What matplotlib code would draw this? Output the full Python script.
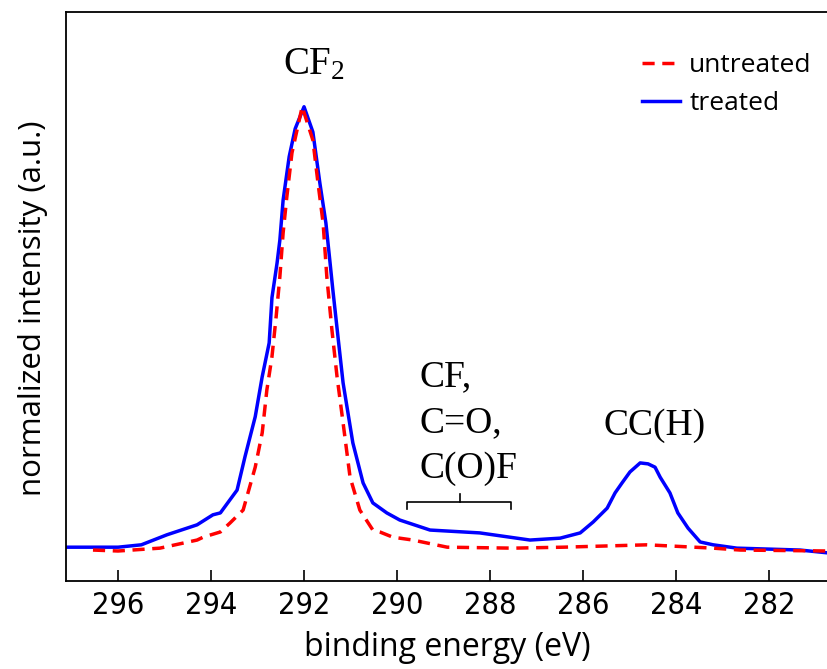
import matplotlib
matplotlib.use("Agg")
import matplotlib.pyplot as plt
import numpy as np

plt.rcParams["mathtext.fontset"] = "custom"
plt.rcParams["mathtext.rm"] = "Liberation Serif"
plt.rcParams["mathtext.it"] = "Liberation Serif:italic"

# ---- data (binding energy in eV, normalized intensity) ----
treated_E = [297.12, 296.5, 296.0, 295.5, 294.95, 294.3, 293.96, 293.8, 293.44, 293.27,
             293.05, 292.90, 292.75, 292.69, 292.58, 292.52, 292.45, 292.32, 292.19, 292.0,
             291.81, 291.66, 291.53, 291.44, 291.38, 291.27, 291.16, 290.95, 290.73, 290.52,
             290.22, 289.94, 289.29, 288.22, 287.14, 286.49, 286.06, 285.78, 285.48, 285.31,
             285.16, 284.99, 284.77, 284.60, 284.45, 284.34, 284.13, 283.96, 283.74, 283.48,
             283.20, 282.69, 282.0, 281.33, 280.73]
treated_I = [0.071, 0.071, 0.071, 0.076, 0.097, 0.118, 0.139, 0.143, 0.191, 0.261,
             0.345, 0.429, 0.500, 0.595, 0.668, 0.716, 0.800, 0.891, 0.950, 0.996,
             0.943, 0.836, 0.752, 0.668, 0.611, 0.513, 0.416, 0.290, 0.206, 0.164,
             0.143, 0.128, 0.107, 0.101, 0.086, 0.090, 0.101, 0.124, 0.153, 0.185,
             0.206, 0.229, 0.248, 0.246, 0.239, 0.218, 0.185, 0.143, 0.111, 0.082,
             0.076, 0.069, 0.067, 0.065, 0.059]

untreated_E = [296.54, 296.0, 295.1, 294.3, 294.17, 293.8, 293.59, 293.31, 293.05, 292.90,
               292.80, 292.69, 292.60, 292.52, 292.45, 292.37, 292.26, 292.04, 291.81, 291.70,
               291.59, 291.51, 291.40, 291.29, 291.16, 291.01, 290.80, 290.52, 290.37, 290.09,
               289.66, 288.92, 287.51, 286.43, 284.62, 283.20, 282.62, 280.73]
untreated_I = [0.065, 0.063, 0.069, 0.086, 0.092, 0.103, 0.122, 0.149, 0.239, 0.311,
               0.401, 0.471, 0.555, 0.639, 0.731, 0.807, 0.899, 0.996, 0.926, 0.836,
               0.752, 0.639, 0.527, 0.429, 0.332, 0.218, 0.149, 0.107, 0.103, 0.092,
               0.086, 0.071, 0.069, 0.071, 0.076, 0.069, 0.065, 0.063]

xticks = [296, 294, 292, 290, 288, 286, 284, 282]
series_labels = ["untreated", "treated"]

W, H = 828, 669
fig = plt.figure(figsize=(W / 100, H / 100), dpi=100)
ax = fig.add_axes([66 / W, (H - 581) / H, (W - 66) / W, (581 - 12) / H])

ax.plot(untreated_E, untreated_I, color="#ff0000", lw=2.5, ls=(0, (3.5, 2.2)),
        label=series_labels[0], zorder=3)
ax.plot(treated_E, treated_I, color="#0000ff", lw=2.5, label=series_labels[1], zorder=2)

ax.set_xlim(297.12, 280.73)
ax.set_ylim(0, 1.195)

ax.set_xticks(xticks)
ax.set_xticklabels([str(t) for t in xticks])
for lab in ax.get_xticklabels():
    lab.set_fontfamily(["DejaVu Sans"])
    lab.set_fontstretch("condensed")
    lab.set_fontsize(22)
ax.set_yticks([])
ax.tick_params(axis="x", direction="in", length=8, width=1.2, pad=7)
for s in ["left", "bottom", "top"]:
    ax.spines[s].set_linewidth(1.3)
ax.spines["right"].set_visible(False)

ax.set_xlabel("binding energy (eV)", fontfamily="Open Sans", fontsize=23, labelpad=8)
ax.set_ylabel("normalized intensity (a.u.)", fontfamily="Open Sans", fontsize=22.5)
ax.yaxis.set_label_coords(-0.024, 0.48)

serif = ["Liberation Serif", "DejaVu Serif"]
ax.text(291.78, 1.045, r"CF$_\mathrm{2}$", fontfamily=serif, fontsize=28, ha="center", va="bottom")
ax.text(284.45, 0.29, "CC(H)", fontfamily=serif, fontsize=27, ha="center", va="bottom")
ax.text(289.52, 0.20, "CF,\nC=O,\nC(O)F", fontfamily=serif, fontsize=27, ha="left",
        va="bottom", linespacing=1.42)

# bracket
bx0, bx1, bxc, by = 289.78, 287.55, 288.65, 0.166
ax.plot([bx0, bx0, bx1, bx1], [by - 0.014, by, by, by - 0.014], color="black", lw=1.2)
ax.plot([bxc, bxc], [by, by + 0.017], color="black", lw=1.2)

leg = ax.legend(loc="upper right", bbox_to_anchor=(1.01, 0.97), frameon=False,
                prop={"family": "Open Sans", "size": 19}, handlelength=1.45,
                handletextpad=0.35, labelspacing=0.5)

fig.savefig("out.png", dpi=100)
